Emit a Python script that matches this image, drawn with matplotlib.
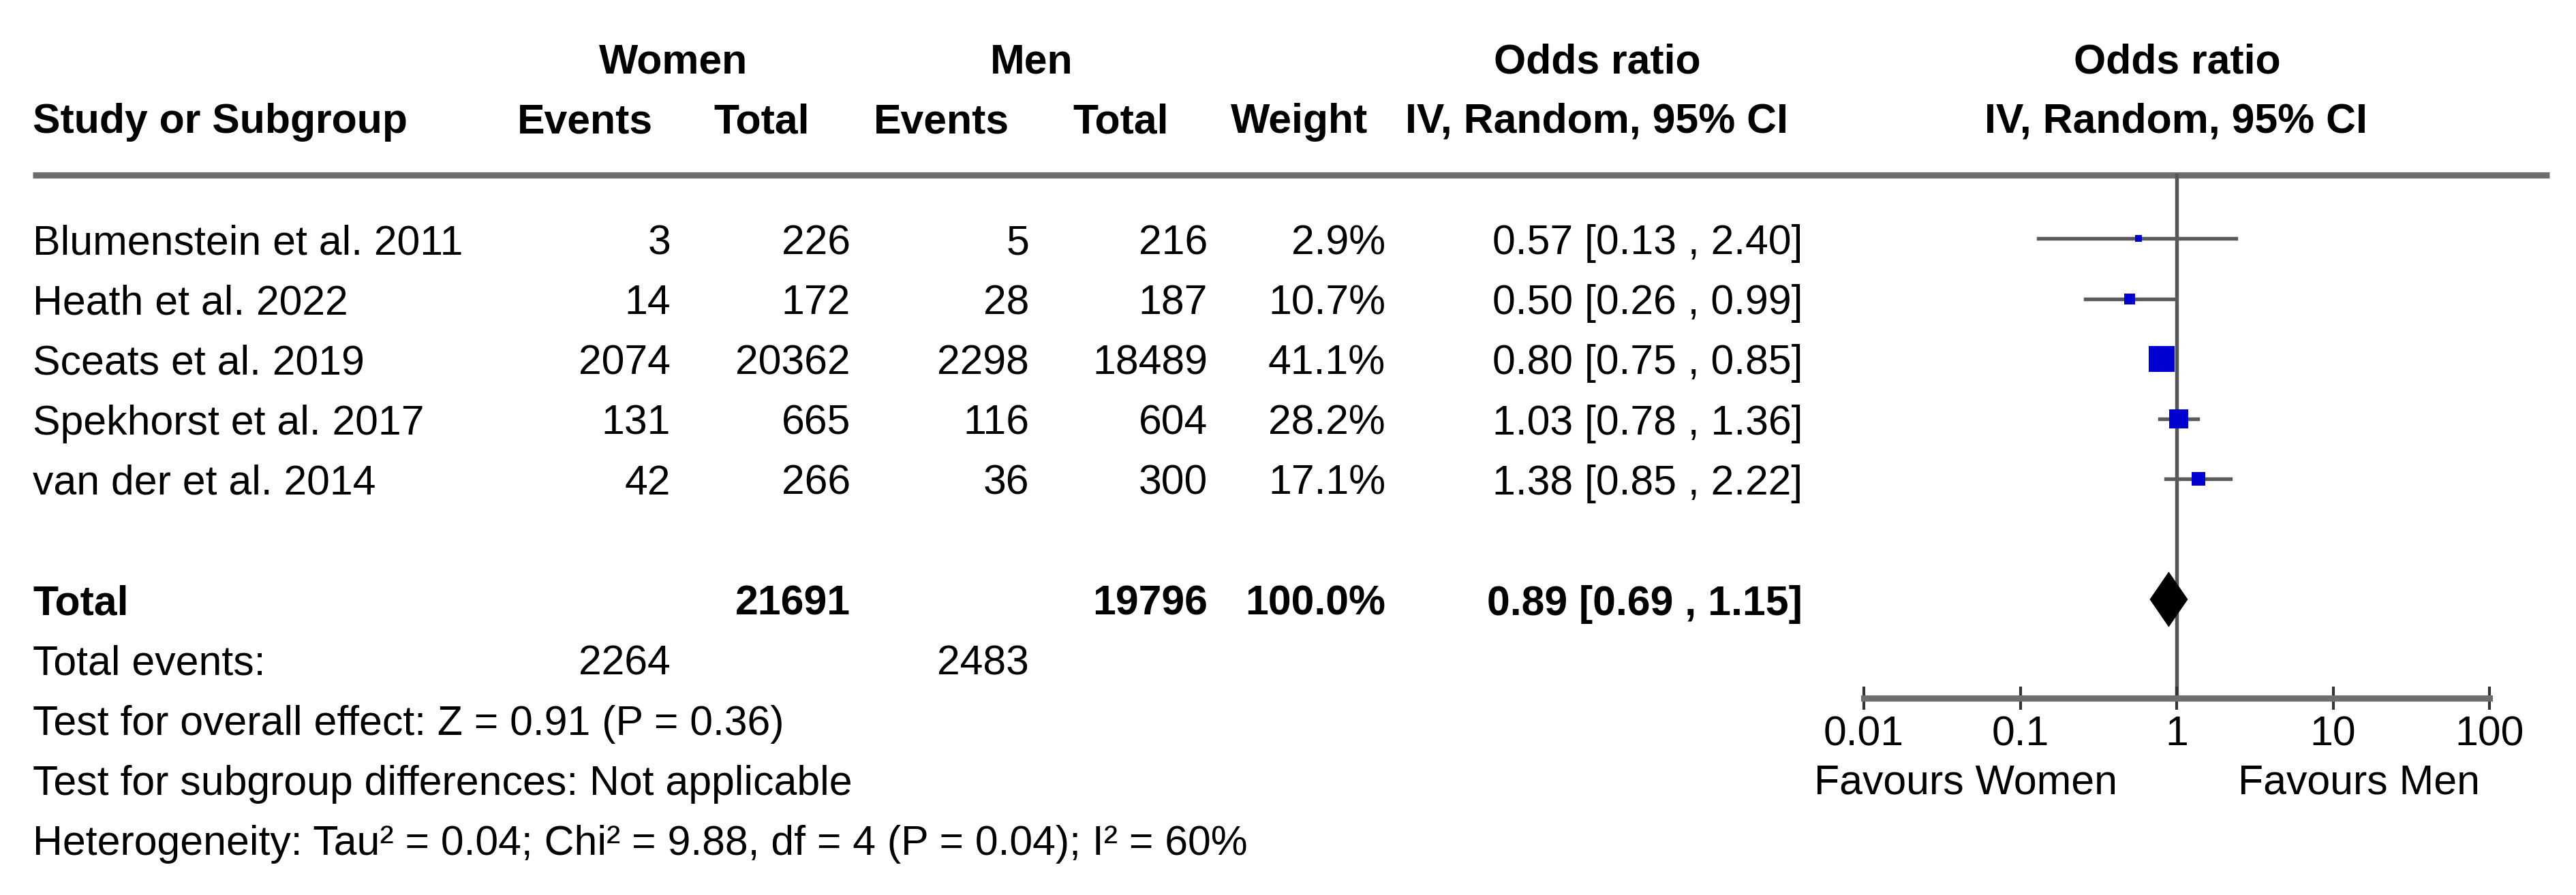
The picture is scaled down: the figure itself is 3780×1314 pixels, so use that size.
import numpy as np
import matplotlib
matplotlib.use("Agg")
import matplotlib.pyplot as plt
from matplotlib.patches import Polygon

plt.rcParams['font.family'] = ['Liberation Sans', 'DejaVu Sans']

# ---- data ----
studies = ["Blumenstein et al. 2011", "Heath et al. 2022", "Sceats et al. 2019",
           "Spekhorst et al. 2017", "van der et al. 2014"]
women_events = [3, 14, 2074, 131, 42]
women_total = [226, 172, 20362, 665, 266]
men_events = [5, 28, 2298, 116, 36]
men_total = [216, 187, 18489, 604, 300]
weights = [2.9, 10.7, 41.1, 28.2, 17.1]
odds = [0.57, 0.50, 0.80, 1.03, 1.38]
ci_low = [0.13, 0.26, 0.75, 0.78, 0.85]
ci_high = [2.40, 0.99, 0.85, 1.36, 2.22]
pooled = (0.89, 0.69, 1.15)
tick_vals = [0.01, 0.1, 1, 10, 100]
tick_labels = ["0.01", "0.1", "1", "10", "100"]
footer = ["Test for overall effect: Z = 0.91 (P = 0.36)",
          "Test for subgroup differences: Not applicable",
          "Heterogeneity: Tau\u00b2 = 0.04; Chi\u00b2 = 9.88, df = 4 (P = 0.04); I\u00b2 = 60%"]

# ---- layout (pixels of the 3780x1314 canvas) ----
W, H = 3780, 1314
FS = 14.6
base0, step = 373, 88.25          # baseline of first study row, row pitch
mid_off = 22.5                    # baseline -> visual middle of a row
x_name = 48
col_right = [984, 1248, 1510, 1772, 2033, 2645]
plot_l, plot_r = 2735, 3653
rule_y, axis_y = 257, 1025

fig = plt.figure(figsize=(W / 300, H / 300), dpi=300)
ax = fig.add_axes([0, 0, 1, 1])
ax.set_xlim(0, W)
ax.set_ylim(H, 0)
ax.axis("off")

def bl(i):
    return base0 + step * i

# headers
ax.text(988, 108, "Women", ha="center", va="baseline", fontsize=FS, fontweight="bold")
ax.text(1514, 108, "Men", ha="center", va="baseline", fontsize=FS, fontweight="bold")
ax.text(2344, 108, "Odds ratio", ha="center", va="baseline", fontsize=FS, fontweight="bold")
ax.text(3195, 108, "Odds ratio", ha="center", va="baseline", fontsize=FS, fontweight="bold")
ax.text(x_name, 195, "Study or Subgroup", ha="left", va="baseline", fontsize=FS, fontweight="bold")
for cx, lab in zip([858, 1118, 1381, 1645, 1907, 2343, 3193],
                   ["Events", "Total", "Events", "Total", "Weight",
                    "IV, Random, 95% CI", "IV, Random, 95% CI"]):
    ax.text(cx, 195, lab, ha="center", va="baseline", fontsize=FS, fontweight="bold")
ax.plot([x_name, 3741], [rule_y, rule_y], color="#6e6e6e", lw=2.2, solid_capstyle="butt")

# study rows
for i, name in enumerate(studies):
    y = bl(i)
    ax.text(x_name, y, name, va="baseline", fontsize=FS)
    vals = [str(women_events[i]), str(women_total[i]), str(men_events[i]),
            str(men_total[i]), f"{weights[i]:.1f}%",
            f"{odds[i]:.2f} [{ci_low[i]:.2f} , {ci_high[i]:.2f}]"]
    for xr, v in zip(col_right, vals):
        ax.text(xr, y, v, ha="right", va="baseline", fontsize=FS)

# total rows
y = bl(6)
ax.text(x_name, y, "Total", va="baseline", fontsize=FS, fontweight="bold")
for xr, v in zip([col_right[1], col_right[3], col_right[4], col_right[5]],
                 [str(sum(women_total)), str(sum(men_total)), "100.0%",
                  f"{pooled[0]:.2f} [{pooled[1]:.2f} , {pooled[2]:.2f}]"]):
    ax.text(xr, y, v, ha="right", va="baseline", fontsize=FS, fontweight="bold")
y = bl(7)
ax.text(x_name, y, "Total events:", va="baseline", fontsize=FS)
ax.text(col_right[0], y, str(sum(women_events)), ha="right", va="baseline", fontsize=FS)
ax.text(col_right[2], y, str(sum(men_events)), ha="right", va="baseline", fontsize=FS)
for k, line in enumerate(footer):
    ax.text(x_name, bl(8 + k), line, va="baseline", fontsize=FS)

# ---- forest panel: log x, y in row units ----
def row_of(px):
    return (px - (base0 - mid_off)) / step

axf = fig.add_axes([plot_l / W, 0, (plot_r - plot_l) / W, 1])
axf.set_xscale("log")
axf.set_xlim(0.01, 100)
axf.set_ylim(row_of(H), row_of(0))
axf.patch.set_alpha(0)
for s in ["left", "right", "top"]:
    axf.spines[s].set_visible(False)
axf.spines["bottom"].set_position(("data", row_of(axis_y)))
axf.spines["bottom"].set_linewidth(2.2)
axf.spines["bottom"].set_color("#6e6e6e")
axf.set_yticks([])
axf.set_xticks(tick_vals)
axf.set_xticklabels(tick_labels)
axf.minorticks_off()
axf.tick_params(axis="x", direction="inout", length=8.2, width=1.0, color="#333333",
                labelsize=FS, pad=2)

axf.plot([1, 1], [row_of(rule_y), row_of(axis_y)], color="#555555", lw=1.3, zorder=1)
rows = np.arange(len(studies))
for i in rows:
    axf.plot([ci_low[i], ci_high[i]], [i, i], color="#5a5a5a", lw=1.3, zorder=2)
    side_px = 8 + 0.73 * weights[i]
    axf.plot(odds[i], i, marker="s", ms=side_px * 72 / 300, color="#0000d0",
             mec="none", zorder=3)
half = 37 / step
axf.add_patch(Polygon([(pooled[1], 6), (pooled[0], 6 - half), (pooled[2], 6),
                       (pooled[0], 6 + half)], closed=True, color="black", zorder=3))

ax.text(2884, 1165, "Favours Women", ha="center", va="baseline", fontsize=FS)
ax.text(3461, 1165, "Favours Men", ha="center", va="baseline", fontsize=FS)

fig.savefig("out.png", dpi=300)
